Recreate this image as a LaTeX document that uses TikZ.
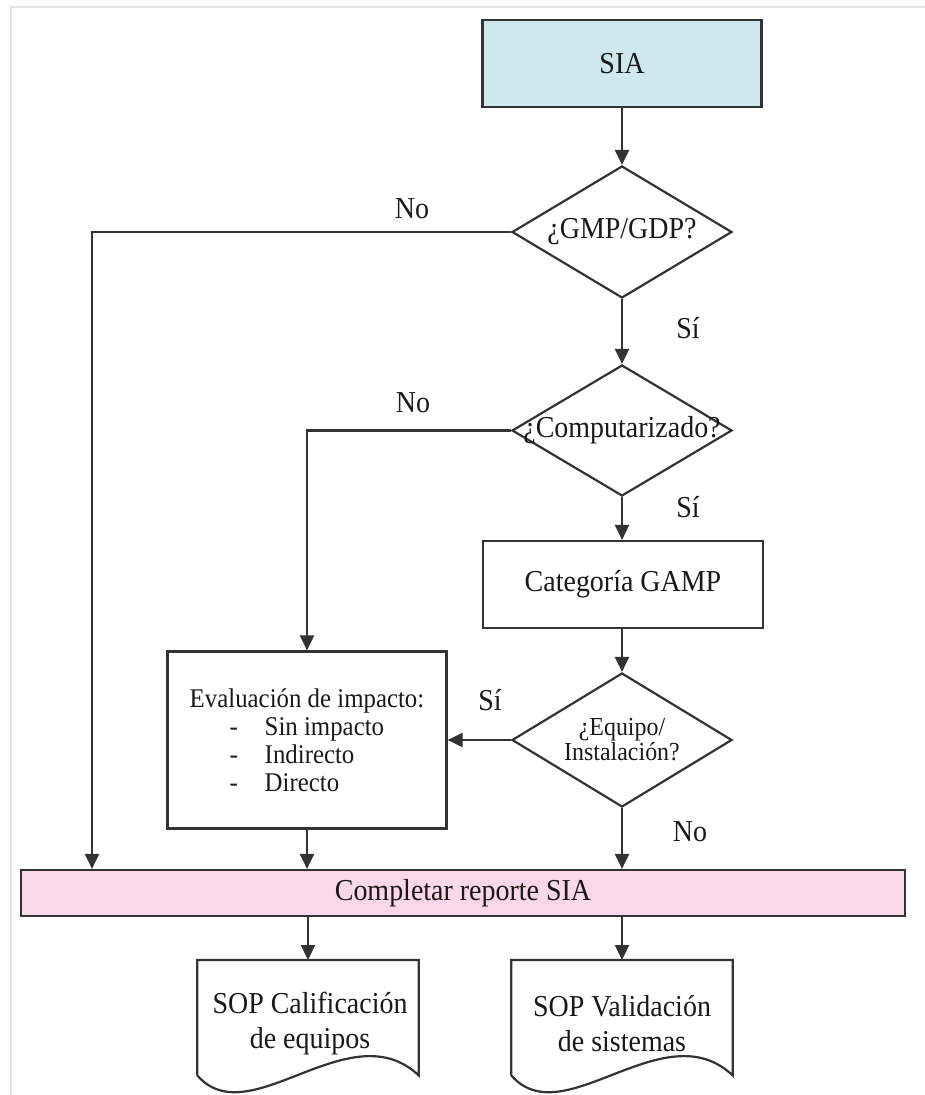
\documentclass[tikz,border=0pt]{standalone}
\usepackage{fontspec}
\setmainfont{Liberation Serif}[FakeStretch=0.92]
\usetikzlibrary{shapes.geometric,arrows.meta}
\definecolor{linec}{HTML}{333333}
\definecolor{siafill}{HTML}{CFE7EE}
\definecolor{barfill}{HTML}{FCD6EA}
\definecolor{framec}{HTML}{E4E4E4}
\begin{document}
\begin{tikzpicture}[x=1pt,y=-1pt,
  every node/.style={font=\fontsize{30.4}{35}\selectfont, text=black!90},
  box/.style={draw=linec, line width=2.2pt, rectangle, inner sep=0pt},
  decision/.style={draw=linec, line width=2.2pt, diamond, inner sep=0pt,
    minimum width=220pt, minimum height=132pt},
  doc/.style={inner sep=0pt, minimum width=221pt, minimum height=115pt, anchor=north},
  flow/.style={draw=linec, line width=2.2pt, -{Triangle[length=15pt,width=14pt]}},
  link/.style={draw=linec, line width=2.2pt},
  lbl/.style={inner sep=0pt}]
\useasboundingbox (0,0) rectangle (925,1095);

% light page frame
\draw[framec, line width=2pt] (11,1095) -- (11,7) -- (925,7);

% process boxes
\node[box, fill=siafill, minimum width=279pt, minimum height=87pt] (sia) at (622,63.5) {SIA};
\node[box, minimum width=280pt, minimum height=87pt] (gamp) at (623,584.5) {Categoría GAMP};
\node[box, minimum width=279pt, minimum height=177pt, align=left,
  font=\fontsize{27}{28}\selectfont] (eval) at (307,740)
  {Evaluación de impacto:\\
   \hspace*{40pt}\makebox[35pt][l]{-}Sin impacto\\
   \hspace*{40pt}\makebox[35pt][l]{-}Indirecto\\
   \hspace*{40pt}\makebox[35pt][l]{-}Directo};
\node[box, fill=barfill, minimum width=884pt, minimum height=46pt] (bar) at (463,893)
  {Completar reporte SIA};

% decisions
\node[decision] (d1) at (622,232) {};
\node[lbl] (t1) at (d1) {¿GMP/GDP?};
\node[decision, minimum height=131pt] (d2) at (622,430.5) {};
\node[lbl] (t2) at (d2) {¿Computarizado?};
\node[decision, minimum height=134pt] (d3) at (622,740) {};
\node[lbl, align=center, font=\fontsize{26}{25}\selectfont] (t3) at (d3) {¿Equipo/\\Instalación?};

% documents
\node[doc] (doc1) at (308,960) {};
\node[doc] (doc2) at (622,960) {};
\foreach \d in {doc1,doc2}
  \draw[link] (\d.south west) -- (\d.north west) -- (\d.north east) -- (\d.south east)
    .. controls +(-69,-65) and +(52,60) .. (\d.south west);
\node[lbl, align=center] (t4) at (310,1024) {SOP Calificación\\de equipos};
\node[lbl, align=center] (t5) at (622,1024) {SOP Validación\\de sistemas};

% connectors
\coordinate (c1) at (92,232);
\coordinate (c2) at (307,430.5);
\draw[flow] (sia) -- (d1);
\draw[flow] (d1.west) -- (c1) -- (c1 |- bar.north);
\draw[flow] (d1) -- (d2);
\draw[flow] (d2.west) -- (c2) -- (eval.north);
\draw[flow] (d2) -- (gamp.north -| d2);
\draw[flow] (gamp.south -| d3) -- (d3);
\draw[flow] (d3.west) -- (eval.east |- d3);
\draw[flow] (d3.south) -- (d3.south |- bar.north);
\draw[flow] (eval.south) -- (eval.south |- bar.north);
\draw[flow] (doc1.north |- bar.south) -- (doc1.north);
\draw[flow] (doc2.north |- bar.south) -- (doc2.north);

% branch labels
\node[lbl] (n1) at (412,209) {No};
\node[lbl] (s1) at (688,328) {Sí};
\node[lbl] (n2) at (413,403) {No};
\node[lbl] (s2) at (688,507) {Sí};
\node[lbl] (s3) at (490,700) {Sí};
\node[lbl] (n3) at (690,832) {No};
\end{tikzpicture}
\end{document}
